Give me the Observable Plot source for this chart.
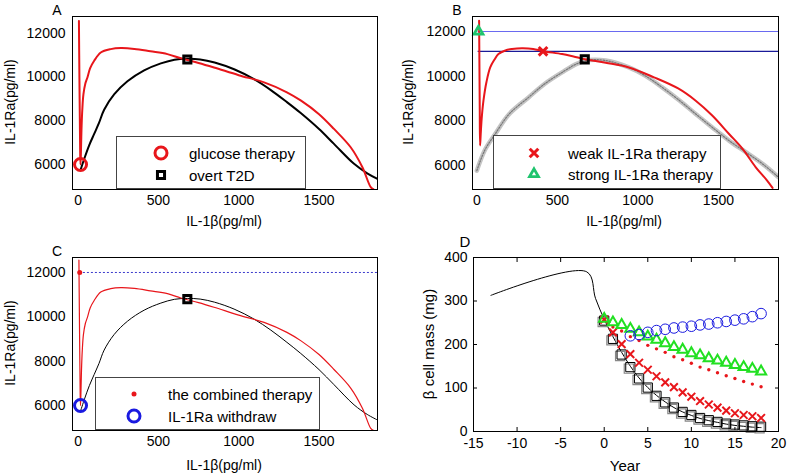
<!DOCTYPE html>
<html><head><meta charset="utf-8">
<script src="https://cdn.jsdelivr.net/npm/d3@7"></script>
<script src="https://cdn.jsdelivr.net/npm/@observablehq/plot@0.6"></script>
<style>
body{margin:0;background:#fff;font-family:"Liberation Sans",Arial,sans-serif;}
#fig{position:relative;width:789px;height:476px;overflow:hidden;background:#fff;}
.lbl{position:absolute;font-size:14px;white-space:nowrap;color:#000;line-height:1;}
.vl{transform:translate(-50%,-50%) rotate(-90deg);}
.hl{transform:translate(-50%,-50%);}
.legend{position:absolute;background:#fff;border:1px solid #444;box-sizing:border-box;}
.ltxt{position:absolute;font-size:15px;line-height:1;white-space:nowrap;transform:translateY(-50%);}
.lmk{position:absolute;overflow:visible;}
</style></head>
<body><div id="fig"></div>
<script>
// ---------- data ----------
const ilTicks = [0, 500, 1000, 1500];
const raTicks = [6000, 8000, 10000, 12000];
const yearTicks = [-15, -10, -5, 0, 5, 10, 15, 20];
const massTicks = [0, 100, 200, 300, 400];

// nullclines (panels A and C)
const redCurveX = [5, 8, 11, 13, 15, 18, 21, 26, 33, 45, 58, 75, 100, 141, 203, 266, 350, 450, 556, 640, 750, 846, 1000, 1158, 1300, 1388, 1500, 1593, 1697, 1770, 1822, 1838];
const redCurveY = [12560, 10000, 7800, 6400, 6000, 6700, 7600, 8500, 9200, 9700, 9977, 10400, 10738, 11116, 11270, 11316, 11280, 11170, 11043, 10850, 10640, 10433, 10080, 9750, 9300, 8916, 8300, 7626, 6788, 5877, 4966, 4880];
const blackCurveX = [15, 40, 70, 100, 130, 162, 224, 307, 411, 515, 600, 680, 760, 850, 971, 1095, 1200, 1300, 1386, 1500, 1593, 1718, 1800, 1864];
const blackCurveY = [5750, 6300, 6900, 7400, 7900, 8500, 9200, 9800, 10300, 10620, 10790, 10830, 10800, 10660, 10350, 9900, 9400, 8850, 8350, 7620, 6943, 6032, 5600, 5348];

// panel B
const redBX = [14, 16, 18, 20, 24, 30, 41, 60, 83, 110, 134, 177, 218, 280, 350, 411, 529, 600, 670, 800, 944, 1100, 1250, 1359, 1460, 1566, 1650, 1732, 1800, 1836];
const redBY = [12480, 10500, 8500, 6900, 7400, 8100, 8903, 9750, 10391, 10750, 10990, 11150, 11214, 11250, 11220, 11120, 10990, 10880, 10760, 10600, 10391, 9950, 9450, 8903, 8250, 7415, 6750, 5923, 5350, 5000];
const grayBX = [0, 50, 114, 200, 321, 420, 529, 620, 695, 800, 944, 1050, 1151, 1260, 1359, 1460, 1566, 1670, 1774, 1873];
const grayBY = [5775, 6700, 7415, 8300, 9050, 9650, 10168, 10550, 10720, 10700, 10391, 10000, 9498, 8900, 8309, 7720, 7117, 6600, 6075, 5477];
const strongLevel = 12000, weakLevel = 11110, therapyStartX = 8;

// markers (IL-1beta, IL-1Ra)
const glucosePt = [15, 6000];
const overtPtA = [680, 10800];
const weakPt = [411, 11110];
const strongPt = [10, 12000];
const overtPtB = [670, 10750];
const combinedPt = [10, 12000];
const withdrawPt = [15, 6000];

// panel D
const years = [0,1,2,3,4,5,6,7,8,9,10,11,12,13,14,15,16,17,18];
const massOvert   = [255, 213, 177, 148, 122, 101, 82, 67, 55, 45, 38, 31, 26, 22, 18, 16, 14, 12, 11];
const massWeak    = [257, 228, 201, 178, 158, 142, 127, 113, 102, 90, 80, 70, 62, 55, 48, 42, 38, 35, 31];
const massCombined= [255, 240, 231, 218, 209, 198, 190, 182, 172, 165, 157, 148, 142, 135, 128, 122, 115, 109, 103];
const massStrong  = [259, 251, 245, 236, 228, 218, 211, 203, 194, 188, 180, 175, 168, 163, 158, 153, 148, 144, 138];
const withdrawYears = [3,4,5,6,7,8,9,10,11,12,13,14,15,16,17,18];
const massWithdraw = [220, 223, 228, 232, 235, 238, 240, 242, 245, 247, 250, 253, 256, 259, 264, 271];
const lineYears = [-13, -2, -1, 0, 1, 2, 3, 4, 5, 6, 7, 8, 9, 10, 11, 12, 13, 14, 15, 16, 17, 18];
const lineMass  = [313, 367, 306, 258, 218, 182, 150, 123, 101, 83, 68, 55, 45, 37, 30, 25, 21, 17, 14, 12, 10, 9];

// ---------- helpers ----------
const RED = "#e8161b", GREEN_B = "#1fc46e", GREEN_D = "#22e022", BLUE = "#1a1ae0", NAVY = "#1a1a99";
const fig = document.getElementById("fig");
const fmt = d => String(d);
const blank = () => "";
const pts = (xs, ys) => xs.map((x, i) => ({x, y: ys[i]}));
const pt = p => [{x: p[0], y: p[1]}];
const baseStyle = {fontFamily: "Liberation Sans, Arial, sans-serif", fontSize: "14px", background: "transparent", color: "black", overflow: "visible"};

function addPlot(opts, left, top) {
  const p = Plot.plot(opts);
  p.style.position = "absolute";
  p.style.left = left + "px";
  p.style.top = top + "px";
  fig.appendChild(p);
}
function label(text, x, y, vertical, size) {
  const d = document.createElement("div");
  d.className = "lbl " + (vertical ? "vl" : "hl");
  d.textContent = text;
  d.style.left = x + "px"; d.style.top = y + "px";
  if (size) d.style.fontSize = size + "px";
  fig.appendChild(d);
}
const svgNS = "http://www.w3.org/2000/svg";
function markerSvg(m) {
  const s = document.createElementNS(svgNS, "svg");
  s.setAttribute("width", 20); s.setAttribute("height", 20);
  s.setAttribute("class", "lmk");
  const g = document.createElementNS(svgNS, "path");
  const sym = {circle: d3.symbolCircle, square: d3.symbolSquare, triangle: d3.symbolTriangle, times: d3.symbolTimes}[m.symbol];
  g.setAttribute("d", d3.symbol(sym, Math.PI * m.r * m.r)());
  g.setAttribute("transform", "translate(10,10)");
  g.setAttribute("fill", m.fill || "none");
  g.setAttribute("stroke", m.stroke || "none");
  g.setAttribute("stroke-width", m.sw || 0);
  s.appendChild(g);
  return s;
}
function legend(left, top, w, h, mx, tx, rows, items) {
  const box = document.createElement("div");
  box.className = "legend";
  Object.assign(box.style, {left: left + "px", top: top + "px", width: w + "px", height: h + "px"});
  items.forEach((it, i) => {
    const s = markerSvg(it.marker);
    s.style.left = (mx - 10) + "px"; s.style.top = (rows[i] - 10) + "px";
    box.appendChild(s);
    const t = document.createElement("div");
    t.className = "ltxt"; t.textContent = it.text;
    t.style.left = tx + "px"; t.style.top = rows[i] + "px";
    box.appendChild(t);
  });
  fig.appendChild(box);
}
function axesIL() {
  return [
    Plot.axisX(ilTicks, {tickSize: 0, tickPadding: 6, label: null, tickFormat: fmt}),
    Plot.axisY(raTicks, {tickSize: 0, tickPadding: 7, label: null, tickFormat: fmt})
  ];
}

// ---------- Panel A ----------
addPlot({
  width: 395, height: 230, marginLeft: 72, marginRight: 18, marginTop: 16, marginBottom: 41,
  style: baseStyle,
  x: {domain: [-35, 1864]}, y: {domain: [4860, 12760]},
  marks: [
    ...axesIL(),
    Plot.line(pts(blackCurveX, blackCurveY), {x: "x", y: "y", stroke: "black", strokeWidth: 2, curve: "catmull-rom", clip: true}),
    Plot.line(pts(redCurveX, redCurveY), {x: "x", y: "y", stroke: RED, strokeWidth: 2, curve: "catmull-rom", clip: true}),
    Plot.dot(pt(glucosePt), {x: "x", y: "y", r: 6, stroke: RED, strokeWidth: 3}),
    Plot.dot(pt(overtPtA), {x: "x", y: "y", symbol: "square", r: 4, stroke: "black", strokeWidth: 3}),
    Plot.frame({stroke: "black"})
  ]
}, 0, 0);

// ---------- Panel B ----------
addPlot({
  width: 394, height: 230, marginLeft: 77, marginRight: 11, marginTop: 16, marginBottom: 41,
  style: baseStyle,
  x: {domain: [-27, 1873]}, y: {domain: [4930, 12670]},
  marks: [
    ...axesIL(),
    Plot.line(pts(grayBX, grayBY), {x: "x", y: "y", stroke: "#c4c4c4", strokeWidth: 4.5, curve: "catmull-rom", clip: true}),
    Plot.line(pts(grayBX, grayBY), {x: "x", y: "y", stroke: "#777", strokeWidth: 1.2, strokeDasharray: "1.5,1.5", curve: "catmull-rom", clip: true}),
    Plot.ruleY([strongLevel], {x1: therapyStartX, x2: 1873, stroke: "#6a6af0", strokeWidth: 1.2}),
    Plot.ruleY([weakLevel], {x1: therapyStartX, x2: 1873, stroke: NAVY, strokeWidth: 1.2}),
    Plot.line(pts(redBX, redBY), {x: "x", y: "y", stroke: RED, strokeWidth: 2, curve: "catmull-rom", clip: true}),
    Plot.dot(pt(weakPt), {x: "x", y: "y", symbol: "times", r: 4, stroke: RED, strokeWidth: 3}),
    Plot.dot(pt(strongPt), {x: "x", y: "y", symbol: "triangle", r: 3.3, stroke: GREEN_B, strokeWidth: 2.8}),
    Plot.dot(pt(overtPtB), {x: "x", y: "y", symbol: "square", r: 4, stroke: "black", strokeWidth: 3}),
    Plot.frame({stroke: "black"})
  ]
}, 395, 0);

// ---------- Panel C ----------
addPlot({
  width: 395, height: 246, marginLeft: 72, marginRight: 18, marginTop: 27, marginBottom: 46,
  style: baseStyle,
  x: {domain: [-35, 1864]}, y: {domain: [4875, 12675]},
  marks: [
    ...axesIL(),
    Plot.ruleY([strongLevel], {x1: therapyStartX, x2: 1864, stroke: "#3a3acc", strokeWidth: 1, strokeDasharray: "2,2"}),
    Plot.line(pts(blackCurveX, blackCurveY), {x: "x", y: "y", stroke: "black", strokeWidth: 1, curve: "catmull-rom", clip: true}),
    Plot.line(pts(redCurveX, redCurveY), {x: "x", y: "y", stroke: RED, strokeWidth: 1.2, curve: "catmull-rom", clip: true}),
    Plot.dot(pt(combinedPt), {x: "x", y: "y", r: 2.5, fill: RED}),
    Plot.dot(pt(withdrawPt), {x: "x", y: "y", r: 6, stroke: BLUE, strokeWidth: 3}),
    Plot.dot(pt(overtPtA), {x: "x", y: "y", symbol: "square", r: 4, stroke: "black", strokeWidth: 3}),
    Plot.frame({stroke: "black"})
  ]
}, 0, 230);

// ---------- Panel D ----------
addPlot({
  width: 394, height: 246, marginLeft: 78, marginRight: 11, marginTop: 27, marginBottom: 45,
  style: baseStyle,
  x: {domain: [-15, 20]}, y: {domain: [0, 400]},
  marks: [
    Plot.axisX(yearTicks, {tickSize: -4, tickPadding: 11, label: null, tickFormat: fmt}),
    Plot.axisY(massTicks, {tickSize: -4, tickPadding: 10, label: null, tickFormat: fmt}),
    Plot.axisX(yearTicks, {anchor: "top", tickSize: -4, label: null, tickFormat: blank}),
    Plot.axisY(massTicks, {anchor: "right", tickSize: -4, label: null, tickFormat: blank}),
    Plot.line(pts(lineYears, lineMass), {x: "x", y: "y", stroke: "black", strokeWidth: 1, curve: "catmull-rom"}),
    Plot.dot(pts(years, massOvert), {x: "x", y: "y", symbol: "square", r: 5.2, stroke: "#888", strokeWidth: 1.2, dx: -1.5, dy: 1.5}),
    Plot.dot(pts(years, massOvert), {x: "x", y: "y", symbol: "square", r: 5.2, stroke: "black", strokeWidth: 1}),
    Plot.dot(pts(years, massWeak), {x: "x", y: "y", symbol: "times", r: 3.6, stroke: RED, strokeWidth: 2}),
    Plot.dot(pts(years, massCombined), {x: "x", y: "y", r: 1.7, fill: RED}),
    Plot.dot(pts(years, massStrong), {x: "x", y: "y", symbol: "triangle", r: 3.8, stroke: GREEN_D, strokeWidth: 2}),
    Plot.dot(pts(withdrawYears, massWithdraw), {x: "x", y: "y", r: 5.3, stroke: BLUE, strokeWidth: 1}),
    Plot.frame({stroke: "black"})
  ]
}, 395, 230);

// ---------- labels ----------
label("A", 57, 10, false, 14);
label("B", 457, 10, false, 14);
label("C", 57, 251, false, 14);
label("D", 465, 241, false, 15);
label("IL-1\u03b2(pg/ml)", 224, 221, false, 14);
label("IL-1\u03b2(pg/ml)", 624, 221, false, 14);
label("IL-1\u03b2(pg/ml)", 224, 465, false, 14);
label("Year", 625, 465, false, 15);
label("IL-1Ra(pg/ml)", 10, 102, true, 14);
label("IL-1Ra(pg/ml)", 408, 102, true, 14);
label("IL-1Ra(pg/ml)", 10, 343, true, 14);
label("\u03b2 cell mass (mg)", 428, 344, true, 15);

// ---------- legends ----------
legend(116, 136, 190, 53, 44, 72, [16, 38], [
  {text: "glucose therapy", marker: {symbol: "circle", r: 6, stroke: RED, sw: 3}},
  {text: "overt T2D", marker: {symbol: "square", r: 4, stroke: "black", sw: 3}}
]);
legend(493, 135, 228, 54, 40, 74, [16.7, 38.3], [
  {text: "weak IL-1Ra therapy", marker: {symbol: "times", r: 4, stroke: RED, sw: 3}},
  {text: "strong IL-1Ra therapy", marker: {symbol: "triangle", r: 3.3, stroke: GREEN_B, sw: 2.8}}
]);
legend(95, 377, 225, 53, 38, 72, [16, 38.3], [
  {text: "the combined therapy", marker: {symbol: "circle", r: 2.5, fill: RED}},
  {text: "IL-1Ra withdraw", marker: {symbol: "circle", r: 6, stroke: BLUE, sw: 3}}
]);
</script>
</body></html>
